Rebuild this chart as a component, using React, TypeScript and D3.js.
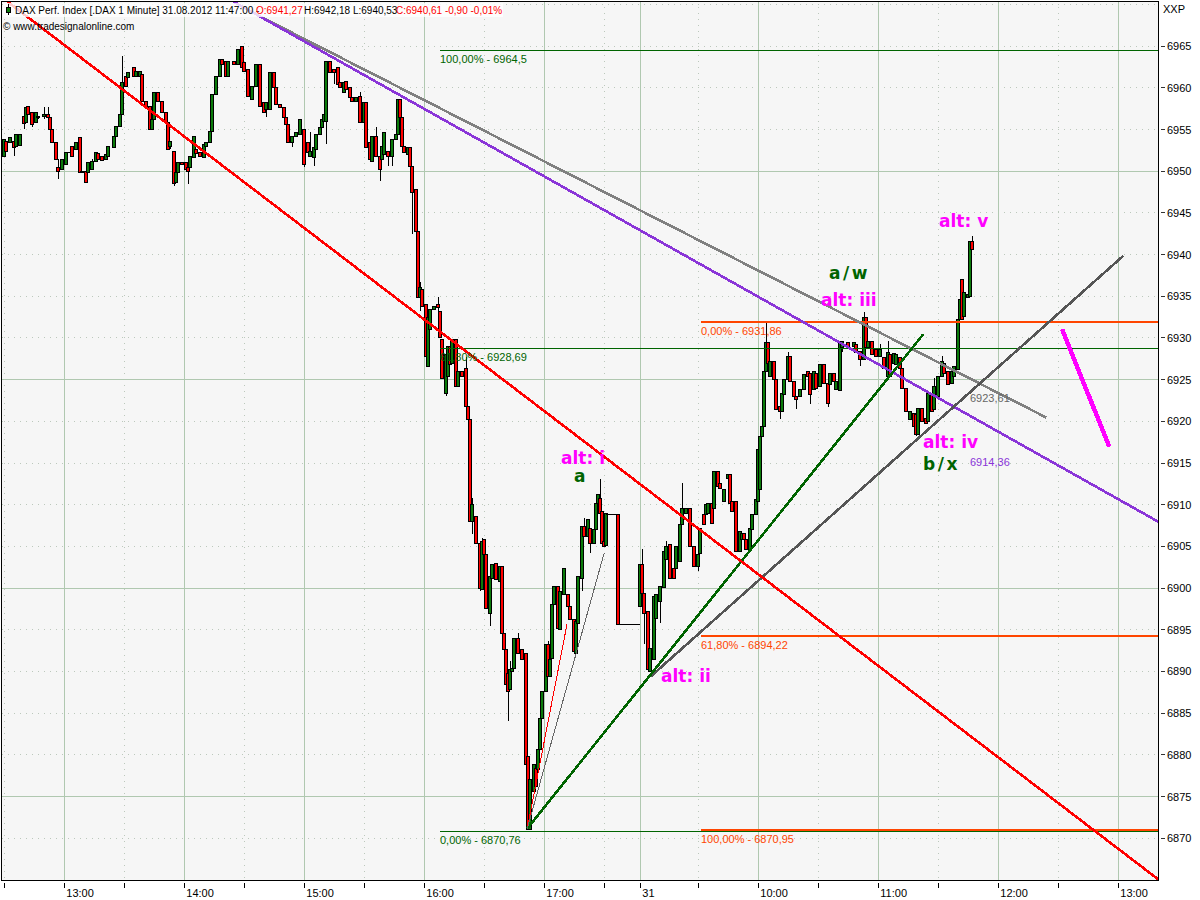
import React from "react";
import * as d3 from "d3";

// Minute index of each candle (one minute of the chart's compressed time axis)
const barMinutes = [
  1,2,4,6,7,9,11,12,13,15,17,18,21,23,24,25,27,28,30,32,33,35,37,39,40,42,43,45,47,48,50,52,53,56,57,59,60,62,63,66,67,69,70,72,74,75,76,78,80,82,83,84,86,87,88,90,92,93,94,96,97,99,101,102,104,105,107,109,110,112,113,116,118,120,121,123,125,127,129,131,132,134,136,137,139,141,142,143,145,147,149,
  151,153,154,156,157,159,160,161,162,164,166,168,169,171,172,174,175,177,179,181,182,184,185,187,189,190,191,193,195,197,198,199,200,201,203,204,205,207,
  208,209,210,212,213,214,216,218,219,220,222,223,224,225,227,228,230,232,233,234,
  235,237,239,240,241,242,244,245,247,249,250,251,252,253,254,255,256,258,260,262,263,264,266,267,268,269,270,272,273,274,275,276,278,279,281,283,284,286,287,288,290,291,293,294,296,297,298,299,300,301,302,
  303,305,307,308,310,312,314,316,318,
  319,320,321,323,324,326,327,329,331,332,334,336,337,339,340,342,344,346,348,349,
  351,352,353,355,356,358,359,361,363,364,365,367,369,370,371,372,374,375,377,378,
  379,380,381,382,383,384,386,387,389,390,391,393,394,396,397,399,401,403,404,406,407,409,411,413,414,416,417,419,420,423,426,427,429,431,432,433,435,437,439,441,443,444,446,447,449,450,452,454,456,457,458,460,462,463,465,466,468,470,471,473,475,476,478,479,480,481,483,484,485,
];

const opens = [
  6951.8,6953.6,6953.4,6953.6,6953.0,6953.1,6956.6,6955.8,6957.8,6957.0,6955.8,6956.6,6956.6,6956.8,6956.4,6955.0,6953.4,6950.4,6950.2,6950.8,6952.2,6953.0,6952.6,6954.0,6949.8,6950.0,6949.8,6950.2,6951.2,6952.1,6951.8,6951.4,6951.8,6952.8,6954.2,6955.4,6956.8,6961.4,6961.2,6962.4,6961.4,6961.4,6961.6,6958.4,6957.8,6955.0,6956.2,6959.4,6958.4,6957.0,6955.8,6953.0,6952.4,6948.6,6949.8,6951.0,6951.0,6950.4,6950.4,6951.6,6952.6,6952.2,6951.7,6953.0,6953.4,6954.8,6959.2,6961.4,6963.4,6963.2,6961.4,6963.2,6962.8,6965.0,6963.0,6962.2,6958.6,6960.2,6962.8,6958.2,6957.4,6957.4,6961.8,6960.0,6958.0,6957.6,6956.4,6955.6,6953.4,6954.2,6954.4,
  6955.0,6953.4,6951.8,6951.7,6952.6,6954.4,6955.2,6956.0,6956.0,6963.2,6962.2,6962.4,6960.6,6959.4,6960.8,6960.0,6958.8,6958.4,6959.0,6955.8,6958.2,6953.4,6951.2,6954.2,6951.8,6951.4,6952.0,6952.4,6951.8,6953.8,6954.4,6958.6,6956.5,6953.0,6952.0,6952.8,6950.6,6947.8,
  6942.8,6934.8,6935.8,6934.0,6926.6,6931.0,6933.4,6934.0,6933.2,6929.8,6923.4,6925.4,6929.0,6927.0,6929.8,6924.2,6926.0,6926.4,6921.8,6920.2,
  6908.0,6908.6,6905.4,6899.8,6905.8,6904.0,6897.0,6901.2,6903.0,6900.8,6902.6,6894.6,6892.6,6889.8,6887.8,6890.0,6890.4,6894.0,6892.6,6892.2,6879.8,6871.0,6875.6,6878.4,6878.2,6880.6,6884.4,6887.6,6893.2,6889.4,6891.6,6898.0,6900.2,6895.0,6899.2,6899.2,6897.8,6896.2,6892.2,6895.8,6901.2,6907.4,6906.2,6907.2,6905.4,6907.0,6910.2,6910.8,6909.2,6905.6,6905.1,
  6908.8,6908.8,6908.8,6908.8,6895.6,6895.6,6895.6,6895.6,6895.6,
  6897.8,6902.8,6899.3,6897.2,6890.0,6891.4,6896.4,6898.4,6900.1,6903.4,6905.2,6902.4,6902.4,6903.2,6907.6,6909.0,6909.6,6905.0,6902.6,6904.2,
  6908.8,6908.8,6909.0,6910.2,6909.6,6914.0,6912.6,6910.4,6913.2,6913.6,6910.4,6910.4,6904.4,6905.8,6906.6,6905.8,6904.6,6907.0,6908.8,6910.4,
  6911.8,6918.2,6919.4,6926.0,6929.4,6925.4,6927.2,6925.0,6921.8,6921.2,6923.2,6925.0,6927.8,6924.8,6923.0,6923.0,6923.8,6926.0,6925.8,6923.8,6925.8,6924.2,6926.8,6924.6,6924.4,6925.8,6923.8,6923.7,6928.8,6929.4,6929.0,6929.2,6928.4,6927.4,6932.4,6928.8,6929.6,6928.6,6927.8,6927.6,6925.4,6928.0,6927.0,6926.8,6927.6,6926.4,6924.0,6920.2,6921.0,6920.8,6918.4,6921.6,6920.4,6920.0,6923.4,6921.4,6923.0,6925.4,6927.0,6926.0,6924.6,6925.4,6926.2,6932.2,6937.0,6932.6,6934.8,6935.0,6941.6,
];

const closes = [
  6953.8,6952.4,6954.0,6952.8,6954.4,6954.4,6955.7,6957.7,6956.8,6955.6,6957.0,6956.5,6956.8,6956.4,6955.0,6953.4,6951.4,6950.0,6951.4,6952.2,6952.3,6951.8,6953.4,6949.8,6950.0,6948.6,6951.0,6951.2,6952.2,6951.4,6951.3,6952.0,6953.0,6954.2,6955.4,6956.8,6960.6,6960.2,6961.8,6961.4,6962.0,6962.0,6958.4,6957.8,6955.0,6956.2,6959.4,6958.4,6957.0,6955.8,6952.6,6953.6,6948.5,6949.8,6951.0,6950.8,6950.2,6950.0,6951.8,6954.2,6952.1,6951.8,6953.2,6953.4,6954.8,6959.2,6961.4,6963.4,6962.8,6961.4,6963.2,6962.8,6964.6,6962.4,6962.0,6959.0,6960.2,6962.8,6957.8,6957.0,6958.2,6961.8,6960.0,6958.0,6957.6,6956.4,6955.6,6953.4,6954.2,6954.6,6956.2,
  6950.8,6952.2,6952.4,6952.8,6954.4,6955.2,6956.2,6956.8,6963.2,6961.8,6961.8,6960.4,6960.1,6960.6,6959.8,6958.8,6958.4,6958.8,6955.8,6958.2,6952.8,6951.4,6954.2,6951.8,6950.2,6953.0,6954.6,6951.8,6953.8,6954.4,6958.6,6956.4,6953.0,6952.2,6952.9,6950.6,6947.4,6942.8,
  6934.8,6936.0,6933.8,6927.8,6932.4,6933.4,6933.8,6933.6,6930.0,6925.2,6928.0,6929.0,6926.8,6929.8,6924.2,6926.0,6925.4,6921.8,6920.2,6908.0,
  6910.0,6905.4,6900.0,6905.6,6904.0,6897.6,6901.4,6902.8,6901.0,6902.6,6894.6,6892.6,6888.4,6887.6,6890.2,6890.4,6894.0,6892.2,6891.4,6878.8,6871.0,6877.0,6878.8,6876.2,6880.6,6884.4,6887.6,6893.2,6889.4,6891.4,6898.0,6900.2,6895.2,6899.6,6902.4,6897.8,6896.2,6892.4,6896.0,6901.4,6907.4,6906.2,6908.2,6905.4,6907.0,6910.2,6911.2,6909.0,6905.4,6905.0,6909.0,
  6908.8,6908.8,6908.8,6895.6,6895.6,6895.6,6895.6,6895.6,6895.6,
  6902.8,6899.3,6897.0,6890.2,6892.8,6899.0,6899.2,6900.2,6904.4,6905.0,6901.2,6901.2,6905.0,6907.6,6909.6,6909.6,6905.0,6902.6,6904.0,6907.2,
  6907.6,6910.0,6910.2,6907.8,6914.0,6912.2,6912.0,6911.8,6913.6,6910.2,6909.2,6904.4,6906.8,6906.6,6905.8,6904.6,6907.2,6908.8,6910.6,6916.6,
  6918.2,6919.4,6926.0,6929.4,6927.0,6927.2,6925.0,6921.4,6921.2,6923.4,6925.0,6927.8,6924.8,6923.0,6922.6,6923.8,6925.6,6925.4,6923.2,6926.0,6924.0,6926.8,6924.6,6922.2,6925.8,6924.8,6924.8,6929.6,6929.6,6928.8,6929.4,6928.2,6927.4,6932.4,6928.8,6929.6,6928.0,6927.8,6928.6,6926.4,6928.2,6925.4,6928.1,6928.0,6926.4,6924.0,6921.2,6921.2,6919.4,6918.4,6921.6,6920.0,6919.8,6923.4,6921.2,6924.2,6925.4,6927.2,6925.8,6924.4,6926.0,6926.6,6932.2,6934.6,6932.2,6935.4,6935.2,6941.6,6940.6,
];

// Wick ends that stick out of the bodies
const wickMinutes = [6,11,15,18,21,21,23,28,28,45,60,84,86,93,132,145,151,154,156,162,166,179,187,189,193,195,205,209,209,218,218,222,224,232,233,235,235,239,240,244,253,254,258,273,290,291,294,299,320,321,329,332,340,348,382,389,393,397,404,413,420,429,431,439,443,457,466,470,485];
const wickPrices = [6951.8,6955.0,6955.3,6956.2,6957.6,6956.2,6957.7,6951.4,6949.0,6951.4,6963.8,6952.6,6948.2,6948.4,6956.4,6952.8,6950.4,6954.6,6950.6,6953.2,6960.4,6959.4,6955.2,6948.8,6950.6,6950.6,6942.4,6936.6,6933.2,6934.8,6932.8,6923.0,6929.6,6927.6,6918.8,6910.8,6906.4,6899.6,6906.0,6895.4,6884.0,6891.2,6894.6,6893.6,6899.6,6908.4,6904.2,6913.0,6904.6,6893.2,6895.8,6905.6,6912.5,6902.0,6931.8,6920.2,6928.2,6921.4,6922.0,6921.7,6928.2,6926.6,6933.0,6929.2,6929.6,6918.2,6925.2,6927.8,6942.2];

const priceTicks = d3.range(6870, 6966, 5);
const topGridPrice = 6970;
const solidPrices = [6875, 6900, 6925, 6950];
const hourMinutes = [31, 91, 151, 211, 271, 378, 438, 498, 558];
const hourLabels = ["13:00", "14:00", "15:00", "16:00", "17:00", "10:00", "11:00", "12:00", "13:00"];
const halfHourMinutes = [1, 61, 121, 181, 241, 301, 348, 408, 468, 528];
const dayMinute = 319;
const dayLabel = "31";

// Trend lines: [minute, price] end points
const redTrend: [number, number][] = [[2.5, 6970.3], [578, 6865.0]];
const purpleTrend: [number, number][] = [[115.5, 6970.3], [578, 6907.9]];
const grayTrend: [number, number][] = [[129, 6968.5], [522, 6920.4]];
const greenTrend: [number, number][] = [[262.5, 6871.1], [460.5, 6930.4]];
const darkTrend: [number, number][] = [[324, 6889.3], [560.5, 6939.8]];
const thinRedTrend: [number, number][] = [[262.5, 6871.1], [282.35, 6895.6]];
const thinGrayTrend: [number, number][] = [[262.5, 6871.1], [301, 6904.2]];
const magentaTrend: [number, number][] = [[529.85, 6931.0], [553.5, 6916.9]];

const fibGreenPrices = [6964.5, 6928.69, 6870.76];
const fibGreenLabels = ["100,00% - 6964,5", "61,80% - 6928,69", "0,00% - 6870,76"];
const fibOrangePrices = [6931.86, 6894.22, 6870.95];
const fibOrangeLabels = ["0,00% - 6931,86", "61,80% - 6894,22", "100,00% - 6870,95"];

const UI = "'Liberation Sans', Arial, sans-serif";
const BOLD = "'DejaVu Sans', sans-serif";
const GREEN = "#006400";
const ORANGE = "#ff4500";
const MAGENTA = "#ff00ff";
const GRID = "#b0c8b0";
const DOT = "#bcc8bc";

const L = 2, R = 1158, T = 1, B = 880;

export default function App() {
  const x = d3.scaleLinear().domain([0, 578]).range([L + 0.3, R + 0.3]);
  const y = d3.scaleLinear().domain([6870, 6965]).range([837.7, 45.7]);
  const px = (v: number) => Math.round(v) + 0.5;
  const line = d3.line<[number, number]>().x((d) => x(d[0])).y((d) => y(d[1]));

  const annotation = (text: string, ax: number, ay: number, fill: string, ls = 0) => (
    <text x={ax} y={ay} fill={fill} fontFamily={BOLD} fontWeight="bold" fontSize={17} letterSpacing={ls}>{text}</text>
  );
  const small = (text: string, ax: number, ay: number, fill: string) => (
    <text x={ax} y={ay} fill={fill} fontFamily={UI} fontSize={11}>{text}</text>
  );

  return (
    <svg width={1200} height={900} style={{ position: "fixed", left: 0, top: 0, background: "#fff" }}>
      <defs>
        <clipPath id="plot"><rect x={L} y={T} width={R - L} height={B - T} /></clipPath>
      </defs>
      <rect x={L} y={T} width={R - L} height={B - T} fill="#f6f6f6" />

      {/* grid */}
      <g shapeRendering="crispEdges">
        {[...priceTicks, topGridPrice].map((p) => (
          <line key={p} x1={L} x2={R} y1={px(y(p))} y2={px(y(p))} stroke={DOT} strokeDasharray="1 5" />
        ))}
        {halfHourMinutes.map((m) => (
          <line key={m} x1={px(x(m))} x2={px(x(m))} y1={T} y2={B} stroke={DOT} strokeDasharray="1 5" />
        ))}
        {solidPrices.map((p) => (
          <line key={p} x1={L} x2={R} y1={px(y(p))} y2={px(y(p))} stroke={GRID} />
        ))}
        {[...hourMinutes, dayMinute].map((m) => (
          <line key={m} x1={px(x(m))} x2={px(x(m))} y1={T} y2={B} stroke={GRID} />
        ))}
      </g>

      {/* candles */}
      <g shapeRendering="crispEdges" stroke="#000">
        {wickMinutes.map((m, i) => {
          const j = barMinutes.indexOf(m);
          return <line key={i} x1={px(x(m))} x2={px(x(m))} y1={y(wickPrices[i])} y2={y(opens[j])} />;
        })}
        {barMinutes.map((m, i) => {
          const top = px(y(Math.max(opens[i], closes[i])));
          const bottom = px(y(Math.min(opens[i], closes[i])));
          const left = px(x(m)) - 2;
          if (bottom === top) {
            return <line key={m} x1={left - 0.5} x2={left + 3.5} y1={top} y2={top} />;
          }
          return (
            <rect key={m} x={left} y={top} width={3} height={bottom - top}
              fill={closes[i] >= opens[i] ? "#0a7a0a" : "#ff0000"} />
          );
        })}
      </g>

      {/* fibonacci levels */}
      <g shapeRendering="crispEdges">
        {fibGreenPrices.map((p) => (
          <line key={p} x1={x(219)} x2={R} y1={px(y(p))} y2={px(y(p))} stroke={GREEN} />
        ))}
        {fibOrangePrices.map((p) => (
          <line key={p} x1={x(349.5)} x2={R} y1={y(p)} y2={y(p)} stroke={ORANGE} strokeWidth={2} />
        ))}
      </g>

      {/* trend lines */}
      <g fill="none" clipPath="url(#plot)" shapeRendering="crispEdges">
        <path d={line(grayTrend)!} stroke="#808080" strokeWidth={2.6} />
        <path d={line(purpleTrend)!} stroke="#8a35d8" strokeWidth={2.6} />
        <path d={line(darkTrend)!} stroke="#555555" strokeWidth={2.6} />
        <path d={line(greenTrend)!} stroke={GREEN} strokeWidth={2.6} />
        <path d={line(redTrend)!} stroke="#ff0000" strokeWidth={2.6} />
        <path d={line(thinRedTrend)!} stroke="#ff0000" strokeWidth={1} />
        <path d={line(thinGrayTrend)!} stroke="#666666" strokeWidth={1} />
        <path d={line(magentaTrend)!} stroke={MAGENTA} strokeWidth={4.5} />
      </g>

      {/* fibonacci labels */}
      {fibGreenLabels.map((t, i) => <g key={t}>{small(t, 440, y(fibGreenPrices[i]) + 13, GREEN)}</g>)}
      {fibOrangeLabels.map((t, i) => <g key={t}>{small(t, 701, y(fibOrangePrices[i]) + 13, ORANGE)}</g>)}
      {small("6923,61", 970, 402, "#666666")}
      {small("6914,36", 970, 466, "#8a35d8")}

      {/* wave annotations */}
      {annotation("alt: i", 561, 464, MAGENTA)}
      {annotation("a", 574, 482, GREEN)}
      {annotation("alt: ii", 661, 682, MAGENTA)}
      {annotation("a/w", 829, 279, GREEN, 2.5)}
      {annotation("alt: iii", 821, 306, MAGENTA)}
      {annotation("alt: v", 939, 227, MAGENTA)}
      {annotation("alt: iv", 923, 448, MAGENTA)}
      {annotation("b/x", 923, 470, GREEN, 2.5)}

      {/* frame */}
      <g shapeRendering="crispEdges" stroke="#000">
        <line x1={L} x2={R} y1={T + 0.5} y2={T + 0.5} />
        <line x1={L - 0.5} x2={L - 0.5} y1={T} y2={B + 1} />
        <line x1={R + 0.5} x2={R + 0.5} y1={T} y2={B + 1} />
        <line x1={L - 1} x2={R + 1} y1={B + 0.5} y2={B + 0.5} />
      </g>

      {/* price axis */}
      {priceTicks.map((p) => (
        <g key={p}>
          <line x1={1161} x2={1165} y1={px(y(p))} y2={px(y(p))} stroke="#333" shapeRendering="crispEdges" />
          <text x={1167} y={y(p) + 4.5} fontFamily={UI} fontSize={11} fill="#000">{p}</text>
        </g>
      ))}
      <text x={1163} y={13} fontFamily={UI} fontSize={11} fill="#000">XXP</text>

      {/* time axis */}
      <g shapeRendering="crispEdges" stroke="#000">
        {[...halfHourMinutes, ...hourMinutes, dayMinute].map((m) => (
          <line key={m} x1={px(x(m))} x2={px(x(m))} y1={883} y2={888} />
        ))}
      </g>
      {hourMinutes.map((m, i) => (
        <text key={m} x={x(m) + 2} y={897} fontFamily={UI} fontSize={11} fill="#000">{hourLabels[i]}</text>
      ))}
      <text x={x(dayMinute) + 2} y={897} fontFamily={UI} fontSize={11} fill="#000">{dayLabel}</text>

      {/* title */}
      <rect x={3} y={3} width={500} height={14} fill="#fff" fillOpacity={0.8} />
      <g shapeRendering="crispEdges">
        <line x1={8.5} x2={8.5} y1={4} y2={15} stroke="#000" />
        <rect x={6.5} y={7.5} width={4} height={5} fill="#0a7a0a" stroke="#000" />
      </g>
      <g fontFamily={UI} fontSize={10}>
        <text x={15} y={14} fill="#000">DAX Perf. Index [.DAX 1 Minute] 31.08.2012 11:47:00 -</text>
        <text x={256} y={14} fill="#f00">O:6941,27</text>
        <text x={304} y={14} fill="#000">H:6942,18 L:6940,53</text>
        <text x={396} y={14} fill="#f00">C:6940,61 -0,90 -0,01%</text>
        <text x={3} y={30} fill="#000">© www.tradesignalonline.com</text>
      </g>
    </svg>
  );
}
